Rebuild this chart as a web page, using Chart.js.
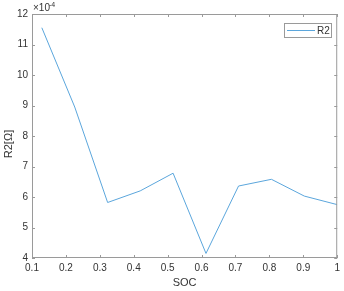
<!DOCTYPE html>
<html>
<head>
<meta charset="utf-8">
<script src="https://cdn.jsdelivr.net/npm/chart.js@4"></script>
<style>
  html, body { margin: 0; padding: 0; background: #fff; }
  #wrap { width: 344px; height: 291px; }
</style>
</head>
<body>
<div id="wrap"><canvas id="c" width="344" height="291"></canvas></div>
<script>
// SOC points and R2 values (in units of 1e-4 ohm)
const soc = [0.129, 0.226, 0.323, 0.419, 0.516, 0.613, 0.709, 0.806, 0.903, 1.0];
const r2 = [11.55, 8.95, 5.82, 6.2, 6.78, 4.15, 6.36, 6.58, 6.03, 5.75];
const xTicks = [0.1, 0.2, 0.3, 0.4, 0.5, 0.6, 0.7, 0.8, 0.9, 1];
const yTicks = [4, 5, 6, 7, 8, 9, 10, 11, 12];

const axisColor = '#9a9a9a';
const textColor = '#333333';
const lineColor = '#5ba6dc';
const font = 'Liberation Sans, Arial, sans-serif';

// MATLAB-style box with inward ticks, axis titles, exponent label and legend
const matlabBox = {
    id: 'matlabBox',
    afterDraw(chart) {
        const ctx = chart.ctx;
        const a = chart.chartArea;
        const xs = chart.scales.x, ys = chart.scales.y;
        ctx.save();
        ctx.strokeStyle = axisColor;
        ctx.lineWidth = 1;
        ctx.strokeRect(a.left + 0.5, a.top + 0.5, a.right - a.left - 1, a.bottom - a.top - 1);
        ctx.beginPath();
        xTicks.forEach(v => {
            const px = Math.round(xs.getPixelForValue(v)) + 0.5;
            ctx.moveTo(px, a.bottom); ctx.lineTo(px, a.bottom - 3);
            ctx.moveTo(px, a.top); ctx.lineTo(px, a.top + 3);
        });
        yTicks.forEach(v => {
            const py = Math.round(ys.getPixelForValue(v)) + 0.5;
            ctx.moveTo(a.left, py); ctx.lineTo(a.left + 3, py);
            ctx.moveTo(a.right, py); ctx.lineTo(a.right - 3, py);
        });
        ctx.stroke();

        // axis titles
        ctx.fillStyle = textColor;
        ctx.font = '11px ' + font;
        ctx.textAlign = 'center';
        ctx.textBaseline = 'middle';
        ctx.fillText('SOC', (a.left + a.right) / 2, 283);
        ctx.save();
        ctx.translate(9, 144);
        ctx.rotate(-Math.PI / 2);
        ctx.fillText('R2[\u03a9]', 0, 0);
        ctx.restore();

        // exponent label
        ctx.font = '10px ' + font;
        ctx.textBaseline = 'alphabetic';
        ctx.textAlign = 'left';
        ctx.fillText('\u00d710', a.left + 1, a.top - 3);
        ctx.font = '7px ' + font;
        ctx.fillText('-4', a.left + 17, a.top - 7);

        // legend
        const lx = 284, ly = 23, lw = 47, lh = 14;
        ctx.fillStyle = '#fff';
        ctx.fillRect(lx, ly, lw, lh);
        ctx.strokeStyle = axisColor;
        ctx.strokeRect(lx + 0.5, ly + 0.5, lw, lh);
        ctx.strokeStyle = lineColor;
        ctx.beginPath();
        ctx.moveTo(287, ly + 7.5); ctx.lineTo(315, ly + 7.5);
        ctx.stroke();
        ctx.fillStyle = textColor;
        ctx.font = '10px ' + font;
        ctx.textBaseline = 'middle';
        ctx.fillText(chart.data.datasets[0].label, 317, ly + 8);
        ctx.restore();
    }
};

new Chart(document.getElementById('c'), {
    type: 'line',
    data: {
        datasets: [{
            label: 'R2',
            data: soc.map((s, i) => ({ x: s, y: r2[i] })),
            borderColor: lineColor,
            borderWidth: 1,
            pointRadius: 0,
            tension: 0,
            fill: false
        }]
    },
    options: {
        responsive: false,
        animation: false,
        layout: { padding: { top: 14, right: 5, left: 0, bottom: 0 } },
        plugins: { legend: { display: false }, tooltip: { enabled: false } },
        scales: {
            x: {
                type: 'linear', min: 0.1, max: 1,
                afterBuildTicks: s => { s.ticks = xTicks.map(v => ({ value: v })); },
                grid: { display: false, drawTicks: false, tickLength: 0 },
                border: { display: false },
                ticks: {
                    color: textColor, font: { family: font, size: 10 }, padding: 4,
                    maxRotation: 0, autoSkip: false,
                    callback: v => String(v)
                },
                afterFit: s => { s.height = 33; }
            },
            y: {
                min: 4, max: 12,
                afterBuildTicks: s => { s.ticks = yTicks.map(v => ({ value: v })); },
                grid: { display: false, drawTicks: false, tickLength: 0 },
                border: { display: false },
                ticks: { color: textColor, font: { family: font, size: 10 }, padding: 4 },
                afterFit: s => { s.width = 32; }
            }
        }
    },
    plugins: [matlabBox]
});
</script>
</body>
</html>
